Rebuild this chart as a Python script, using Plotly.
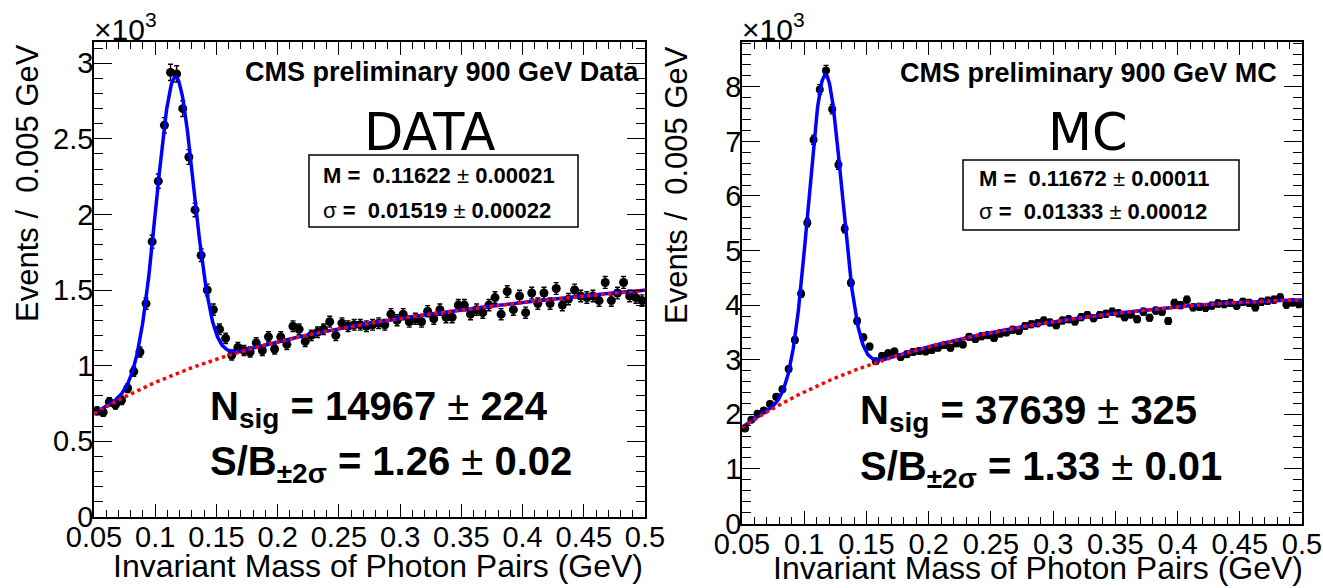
import numpy as np
import plotly.graph_objects as go

W, H = 1323, 588

# ---------------- binning ----------------
bin_lo, bin_hi, bin_width = 0.05, 0.5, 0.005

# ---------------- DATA (left panel), events / 0.005 GeV in units of 10^3 ----------------
data_counts = [
    0.70, 0.69, 0.76, 0.74, 0.77, 0.85, 0.96, 1.09, 1.41, 1.82,
    2.22, 2.59, 2.94, 2.93, 2.70, 2.38, 2.03, 1.73, 1.50, 1.37,
    1.24, 1.18, 1.07, 1.12, 1.10, 1.09, 1.15, 1.10, 1.19, 1.11,
    1.19, 1.14, 1.26, 1.24, 1.16, 1.20, 1.22, 1.24, 1.29, 1.20,
    1.28, 1.26, 1.27, 1.27, 1.26, 1.27, 1.28, 1.27, 1.34, 1.30,
    1.34, 1.29, 1.31, 1.29, 1.36, 1.31, 1.37, 1.32, 1.32, 1.40,
    1.40, 1.34, 1.37, 1.35, 1.40, 1.45, 1.34, 1.49, 1.37, 1.46,
    1.35, 1.48, 1.41, 1.48, 1.41, 1.51, 1.40, 1.44, 1.50, 1.46,
    1.45, 1.46, 1.43, 1.55, 1.43, 1.48, 1.55, 1.46, 1.45, 1.43,
]

# ---------------- MC (right panel) ----------------
mc_counts = [
    1.74, 1.90, 2.01, 2.07, 2.19, 2.32, 2.46, 2.83, 3.36, 4.21,
    5.51, 7.03, 7.95, 8.30, 7.59, 6.57, 5.40, 4.41, 3.71, 3.41,
    3.24, 2.97, 3.07, 3.12, 3.15, 3.05, 3.10, 3.14, 3.16, 3.15,
    3.18, 3.22, 3.27, 3.22, 3.30, 3.28, 3.42, 3.38, 3.43, 3.45,
    3.40, 3.48, 3.50, 3.55, 3.53, 3.62, 3.65, 3.67, 3.72, 3.68,
    3.63, 3.72, 3.74, 3.70, 3.78, 3.82, 3.76, 3.82, 3.84, 3.88,
    3.85, 3.78, 3.83, 3.74, 3.88, 3.77, 3.90, 3.88, 3.71, 4.04,
    4.00, 4.10, 3.96, 3.97, 3.95, 3.99, 4.03, 4.02, 4.04, 3.99,
    4.06, 4.04, 3.96, 4.06, 4.08, 4.10, 4.14, 4.01, 4.05, 4.02,
]

# ---------------- fit results (as printed on the chart) ----------------
data_fit = dict(M=0.11622, sigma=0.01519, nsig=14967)
mc_fit = dict(M=0.11672, sigma=0.01333, nsig=37639)

# background curve (units of 10^3)
bkg_x = [0.05, 0.075, 0.1, 0.125, 0.15, 0.175, 0.2, 0.25, 0.3, 0.35, 0.4, 0.45, 0.5]
data_bkg = [0.68, 0.79, 0.895, 0.975, 1.04, 1.10, 1.155, 1.245, 1.315, 1.37, 1.415, 1.46, 1.50]
mc_bkg = [1.74, 2.13, 2.43, 2.67, 2.88, 3.06, 3.22, 3.50, 3.71, 3.86, 3.96, 4.04, 4.10]

x_ticks = [0.05, 0.1, 0.15, 0.2, 0.25, 0.3, 0.35, 0.4, 0.45, 0.5]
x_ticklabels = ["0.05", "0.1", "0.15", "0.2", "0.25", "0.3", "0.35", "0.4", "0.45", "0.5"]

FONT = "Liberation Sans, Arial, Helvetica, sans-serif"
BIGFONT = "DejaVu Sans, Liberation Sans, sans-serif"


def px(x):
    return x / W


def py(y):
    return 1 - y / H


centers = np.arange(bin_lo + bin_width / 2, bin_hi, bin_width)
xf = np.linspace(bin_lo, bin_hi, 901)


def curves(bkg_vals, fit):
    coef = np.polyfit(bkg_x, bkg_vals, 4)
    bkg = np.polyval(coef, xf)
    amp = fit["nsig"] * bin_width / (fit["sigma"] * np.sqrt(2 * np.pi)) / 1000.0
    sig = amp * np.exp(-0.5 * ((xf - fit["M"]) / fit["sigma"]) ** 2)
    return bkg, bkg + sig


fig = go.Figure()

panels = [
    dict(counts=data_counts, bkg=data_bkg, fit=data_fit, xa="x", ya="y", msize=9),
    dict(counts=mc_counts, bkg=mc_bkg, fit=mc_fit, xa="x2", ya="y2", msize=8),
]

for p in panels:
    cnt = np.array(p["counts"])
    err = np.sqrt(cnt * 1000.0) / 1000.0
    bkg, tot = curves(p["bkg"], p["fit"])
    fig.add_trace(go.Scatter(
        x=centers, y=cnt, mode="markers", xaxis=p["xa"], yaxis=p["ya"],
        marker=dict(color="black", size=p["msize"]),
        error_y=dict(type="data", array=err, visible=True, color="black", thickness=1.4, width=2.5),
        showlegend=False, hoverinfo="skip"))
    fig.add_trace(go.Scatter(
        x=xf, y=tot, mode="lines", xaxis=p["xa"], yaxis=p["ya"],
        line=dict(color="#0000ff", width=3.5), showlegend=False, hoverinfo="skip"))
    fig.add_trace(go.Scatter(
        x=xf, y=bkg, mode="lines", xaxis=p["xa"], yaxis=p["ya"],
        line=dict(color="#ff0000", width=3.5, dash="dot"), showlegend=False, hoverinfo="skip"))

axis_common = dict(
    showline=True, linecolor="black", linewidth=1.5, mirror="allticks",
    ticks="inside", tickcolor="black", tickwidth=1.2,
    showgrid=False, zeroline=False, automargin=False,
    tickfont=dict(family=FONT, size=29, color="black"),
)

fig.update_layout(
    template="none",
    width=W, height=H,
    margin=dict(l=0, r=0, t=0, b=0, pad=0, autoexpand=False),
    paper_bgcolor="white", plot_bgcolor="white",
    xaxis=dict(domain=[px(94), px(645)], range=[0.05, 0.5], anchor="y",
               tickvals=x_ticks, ticktext=x_ticklabels, ticklen=13,
               minor=dict(dtick=0.01, tick0=0.05, ticklen=7, ticks="inside", tickcolor="black", tickwidth=1.2),
               ticklabelstandoff=-6, **axis_common),
    yaxis=dict(domain=[py(516.7), py(42)], range=[0, 3.141], anchor="x",
               tickvals=[0, 0.5, 1, 1.5, 2, 2.5, 3], ticktext=["0", "0.5", "1", "1.5", "2", "2.5", "3"],
               ticklen=18,
               minor=dict(dtick=0.1, tick0=0, ticklen=9, ticks="inside", tickcolor="black", tickwidth=1.2),
               ticklabelstandoff=-7, **axis_common),
    xaxis2=dict(domain=[px(742), px(1302)], range=[0.05, 0.5], anchor="y2",
                tickvals=x_ticks, ticktext=x_ticklabels, ticklen=13,
                minor=dict(dtick=0.01, tick0=0.05, ticklen=7, ticks="inside", tickcolor="black", tickwidth=1.2),
                ticklabelstandoff=-6, **axis_common),
    yaxis2=dict(domain=[py(523.5), py(42)], range=[0, 8.82], anchor="x2",
                tickvals=list(range(9)), ticktext=[str(v) for v in range(9)],
                ticklen=18,
                minor=dict(dtick=0.2, tick0=0, ticklen=9, ticks="inside", tickcolor="black", tickwidth=1.2),
                ticklabelstandoff=-7, **axis_common),
)

NB = "\u00a0"
annotations = []


def ann(text, x, y, size, xanchor="left", yanchor="middle", angle=0, family=FONT):
    annotations.append(dict(
        text=text, x=px(x), y=py(y), xref="paper", yref="paper",
        xanchor=xanchor, yanchor=yanchor, showarrow=False, textangle=angle,
        font=dict(family=family, size=size, color="black")))


# left panel texts
ann("×10<sup>3</sup>", 92, 27, 30)
ann("<b>CMS preliminary 900 GeV Data</b>", 641, 72, 27, xanchor="right")
ann("DATA", 429, 133, 51, xanchor="center", family=BIGFONT)
ann(f"<b>M ={NB}{NB}0.11622</b> ± <b>0.00021</b>", 321, 175, 22)
ann(f"σ<b> ={NB}{NB}0.01519</b> ± <b>0.00022</b>", 321, 210, 22)
ann("<b>N<sub>sig</sub> = 14967</b> ± <b>224</b>", 208, 409, 40)
ann("<b>S/B<sub>±2σ</sub> = 1.26</b> ± <b>0.02</b>", 208, 464, 40)
ann(f"Events /{NB}{NB}0.005 GeV", 27, 183, 31, xanchor="center", angle=-90)
ann("Invariant Mass of Photon Pairs (GeV)", 645, 566, 32, xanchor="right")

# right panel texts
ann("×10<sup>3</sup>", 740, 27, 30)
ann("<b>CMS preliminary 900 GeV MC</b>", 1279, 73, 27, xanchor="right")
ann("MC", 1088, 133, 51, xanchor="center", family=BIGFONT)
ann(f"<b>M ={NB}{NB}0.11672</b> ± <b>0.00011</b>", 977, 178, 22)
ann(f"σ<b> ={NB}{NB}0.01333</b> ± <b>0.00012</b>", 977, 212, 22)
ann("<b>N<sub>sig</sub> = 37639</b> ± <b>325</b>", 858, 413, 40)
ann("<b>S/B<sub>±2σ</sub> = 1.33</b> ± <b>0.01</b>", 858, 469, 40)
ann(f"Events /{NB}{NB}0.005 GeV", 677, 185, 31, xanchor="center", angle=-90)
ann("Invariant Mass of Photon Pairs (GeV)", 1305, 568, 32, xanchor="right")

fig.update_layout(annotations=annotations)

shapes = [
    dict(type="rect", xref="paper", yref="paper", x0=px(309), x1=px(578), y0=py(227), y1=py(155),
         line=dict(color="black", width=1.5), fillcolor="rgba(0,0,0,0)"),
    dict(type="rect", xref="paper", yref="paper", x0=px(963), x1=px(1239), y0=py(230), y1=py(160),
         line=dict(color="black", width=1.5), fillcolor="rgba(0,0,0,0)"),
]
fig.update_layout(shapes=shapes)

fig.write_html("out.html")
